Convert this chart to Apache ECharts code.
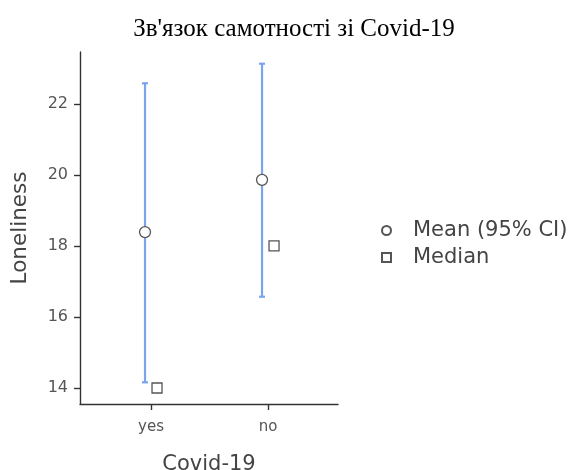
<!DOCTYPE html>
<html>
<head>
<meta charset="utf-8">
<script src="https://cdn.jsdelivr.net/npm/echarts@6/dist/echarts.min.js"></script>
<style>
  html, body { margin: 0; padding: 0; background: #fff; }
  #chart { width: 571px; height: 470px; }
</style>
</head>
<body>
<div id="chart"></div>
<script>
// Loneliness by Covid-19 status: mean with 95% CI and median per group
const categories = ['yes', 'no'];
const meanValues = [18.39, 19.86];
const ciLower = [14.16, 16.57];
const ciUpper = [22.58, 23.13];
const medianValues = [14, 18];
const yTicks = [14, 16, 18, 20, 22];

const FONT = '"DejaVu Sans", "Liberation Sans", sans-serif';
const BAR_COLOR = '#79a5ee';
const DODGE = 6; // px shift between mean/CI and median marks

const positions = categories.map((_, i) => i + 1);

const chart = echarts.init(document.getElementById('chart'), null, { renderer: 'canvas' });

chart.setOption({
  backgroundColor: '#ffffff',
  animation: false,
  title: {
    text: 'Зв\'язок самотності зі Covid-19',
    left: 289,
    textAlign: 'center',
    top: 12,
    textStyle: { fontFamily: '"Liberation Serif", "Times New Roman", serif', fontSize: 25, fontWeight: 'normal', color: '#000' }
  },
  legend: {
    orient: 'vertical',
    left: 376,
    top: 215,
    itemWidth: 9,
    itemHeight: 9,
    itemGap: 6,
    data: ['Mean (95% CI)', 'Median'],
    textStyle: { fontFamily: FONT, fontSize: 21, color: '#444', lineHeight: 21, padding: [0, 0, 0, 17] }
  },
  grid: { left: 80, right: 233, top: 52, bottom: 66, outerBoundsMode: 'none' },
  xAxis: {
    type: 'value',
    min: 0.393,
    max: 2.598,
    name: 'Covid-19',
    nameLocation: 'middle',
    nameGap: 50,
    nameTextStyle: { fontFamily: FONT, fontSize: 21, color: '#444' },
    splitLine: { show: false },
    axisLine: { show: true, lineStyle: { color: '#333', width: 1.4 } },
    axisTick: { show: true, length: 6, lineStyle: { color: '#333', width: 1.4 }, customValues: positions },
    axisLabel: {
      fontFamily: FONT, fontSize: 15, color: '#555', margin: 16,
      customValues: positions,
      formatter: v => categories[Math.round(v) - 1] || ''
    }
  },
  yAxis: {
    type: 'value',
    min: 13.55,
    max: 23.46,
    name: 'Loneliness',
    nameLocation: 'middle',
    nameGap: 49,
    nameRotate: 90,
    nameTextStyle: { fontFamily: FONT, fontSize: 21.5, color: '#444' },
    splitLine: { show: false },
    axisLine: { show: true, lineStyle: { color: '#333', width: 1.4 } },
    axisTick: { show: true, length: 6, lineStyle: { color: '#333', width: 1.4 }, customValues: yTicks },
    axisLabel: { fontFamily: FONT, fontSize: 16, color: '#555', margin: 12, customValues: yTicks }
  },
  series: [
    {
      name: 'CI',
      type: 'custom',
      data: positions.map((x, i) => [x, ciLower[i], ciUpper[i]]),
      encode: { x: 0, y: [1, 2] },
      z: 1,
      renderItem: function (params, api) {
        const x = api.value(0);
        const lo = api.coord([x, api.value(1)]);
        const hi = api.coord([x, api.value(2)]);
        const cx = lo[0] - DODGE;
        const cap = 3;
        const style = { stroke: BAR_COLOR, lineWidth: 2.2 };
        return {
          type: 'group',
          children: [
            { type: 'line', shape: { x1: cx, y1: lo[1], x2: cx, y2: hi[1] }, style },
            { type: 'line', shape: { x1: cx - cap, y1: lo[1], x2: cx + cap, y2: lo[1] }, style },
            { type: 'line', shape: { x1: cx - cap, y1: hi[1], x2: cx + cap, y2: hi[1] }, style }
          ]
        };
      }
    },
    {
      name: 'Mean (95% CI)',
      type: 'scatter',
      data: positions.map((x, i) => [x, meanValues[i]]),
      symbol: 'circle',
      symbolSize: 11,
      symbolOffset: [-DODGE, 0],
      z: 3,
      itemStyle: { color: '#ffffff', borderColor: '#555', borderWidth: 1.3, opacity: 1 }
    },
    {
      name: 'Median',
      type: 'scatter',
      data: positions.map((x, i) => [x, medianValues[i]]),
      symbol: 'rect',
      symbolSize: 10,
      symbolOffset: [DODGE, 0],
      z: 3,
      itemStyle: { color: '#ffffff', borderColor: '#555', borderWidth: 1.3, opacity: 1 }
    }
  ]
});
</script>
</body>
</html>
